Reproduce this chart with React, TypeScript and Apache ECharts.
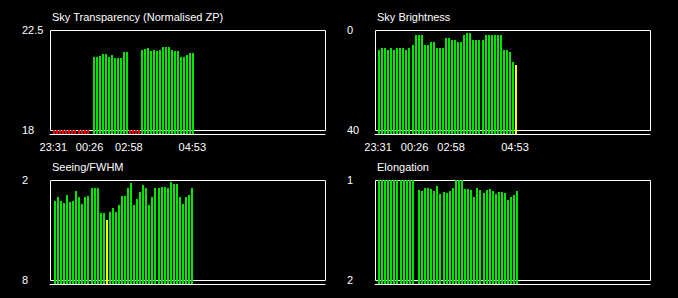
import React, { useEffect, useRef } from "react";
import * as echarts from "echarts";

// ---- data ----
const TIME_LABELS = ["23:31", "00:26", "02:58", "04:53"];
const TRANSPARENCY_LABEL_SLOTS = [0, 12, 25, 46];
const BRIGHTNESS_LABEL_SLOTS = [0, 12, 24, 45];

// flags: g = good (green), y = warning (yellow), r = no measurement (red stub), - = no frame
const TRANSPARENCY_FLAGS = "r".repeat(12) + "-" + "g".repeat(12) + "r".repeat(4) + "g".repeat(18);
const TRANSPARENCY: (number | null)[] = [
  null, null, null, null, null, null, null, null, null, null, null, null,
  null,
  21.29, 21.29, 21.33, 21.41, 21.41, 21.29, 21.37, 21.24, 21.24, 21.24, 21.5, 21.5,
  null, null, null, null,
  21.6, 21.65, 21.69, 21.56, 21.6, 21.56, 21.6, 21.74, 21.74, 21.74, 21.6, 21.56, 21.56,
  21.29, 21.29, 21.38, 21.47, 21.47,
];

const BRIGHTNESS_FLAGS = "g".repeat(45) + "y";
const BRIGHTNESS: number[] = [
  8, 7.2, 7.2, 8, 7.2, 8, 7.2, 7.2, 7.2, 8, 7.2, 6,
  2, 2, 2, 6, 6, 4.8, 4.8, 7.2, 7.2, 7.2, 3.2, 3.2,
  4, 4, 4.8, 4.8, 2, 1.2, 1.2, 4, 4, 4, 4, 2, 2, 2, 2, 2, 2,
  8, 8, 8.8, 12.8, 14,
];

const SEEING_FLAGS = "g".repeat(17) + "y" + "g".repeat(28);
const SEEING: number[] = [
  3.26, 3.02, 3.26, 3.38, 2.9, 3.32, 3.26, 2.66, 3.02, 3.44, 3.02, 2.96,
  2.48, 2.48, 2.48, 3.98, 3.98, 4.4, 3.92, 3.68, 3.92, 3.5, 2.96, 2.96,
  2.48, 2.18, 3.5, 3.14, 2.72, 2.3, 2.48, 3.5, 3.02, 2.48, 2.48, 2.42,
  2.42, 2.48, 2.12, 2.24, 2.24, 3.02, 3.44, 3.02, 2.9, 2.48,
];

const ELONGATION_FLAGS = "g".repeat(12) + "-" + "g".repeat(33);
const ELONGATION: (number | null)[] = [
  1, 1, 1, 1, 1, 1, 1, 1, 1, 1, 1, 1,
  null,
  1.1, 1.11, 1.08, 1.08, 1.09, 1.11, 1.06, 1.14, 1.12, 1.13, 1.11, 1.08,
  1, 1, 1,
  1.09, 1.09, 1.1, 1.17, 1.08, 1.1, 1.13, 1.1, 1.09, 1.11, 1.14, 1.12,
  1.12, 1.13, 1.2, 1.17, 1.15, 1.11,
];

// ---- styling / layout ----
const FONT = "'Liberation Sans', Arial, sans-serif";
const FONT_SIZE = 11;
const FLAG_CODES: Record<string, number> = { g: 0, y: 1, r: 2 };
const FLAG_COLORS = ["#00e600", "#ffff00", "#ff0000"];

type Panel = {
  title: string;
  values: (number | null)[];
  flags: string;
  top: number; // value at frame top
  bottom: number; // value at frame bottom
  left: number;
  y: number;
  xMin: number;
  xMax: number;
  labelSlots?: number[];
};

const PANELS: Panel[] = [
  { title: "Sky Transparency (Normalised ZP)", values: TRANSPARENCY, flags: TRANSPARENCY_FLAGS, top: 22.5, bottom: 18, left: 50, y: 30, xMin: -1.1, xMax: 89.9, labelSlots: TRANSPARENCY_LABEL_SLOTS },
  { title: "Sky Brightness", values: BRIGHTNESS, flags: BRIGHTNESS_FLAGS, top: 0, bottom: 40, left: 375, y: 30, xMin: -1, xMax: 89.35, labelSlots: BRIGHTNESS_LABEL_SLOTS },
  { title: "Seeing/FWHM", values: SEEING, flags: SEEING_FLAGS, top: 2, bottom: 8, left: 50, y: 180, xMin: -1.31, xMax: 89.0 },
  { title: "Elongation", values: ELONGATION, flags: ELONGATION_FLAGS, top: 1, bottom: 2, left: 375, y: 180, xMin: -0.98, xMax: 88.5 },
];

const FRAME_W = 275;
const FRAME_H = 100;
const BASE_GAP = 4;

function buildOption() {
  const grid: any[] = [];
  const xAxis: any[] = [];
  const yAxis: any[] = [];
  const series: any[] = [];
  const title: any[] = [];
  const graphic: any[] = [];

  PANELS.forEach((p, i) => {
    grid.push({ left: p.left, top: p.y, width: FRAME_W, height: FRAME_H + BASE_GAP, outerBoundsMode: "none", containLabel: false });
    const span = p.bottom - p.top;
    const ext = p.bottom + (span * BASE_GAP) / FRAME_H;
    const inverse = span > 0;
    yAxis.push({
      type: "value",
      gridIndex: i,
      inverse,
      min: inverse ? p.top : ext,
      max: inverse ? ext : p.top,
      axisLine: { show: false },
      axisTick: { show: false },
      splitLine: { show: false },
      axisLabel: {
        customValues: [p.top, p.bottom],
        formatter: (v: number) => String(v),
        color: "#ffffff",
        fontFamily: FONT,
        fontSize: FONT_SIZE,
        align: "left",
        margin: 28,
      },
    });
    const slots = p.labelSlots;
    xAxis.push({
      type: "value",
      gridIndex: i,
      min: p.xMin,
      max: p.xMax,
      axisLine: { show: true, onZero: false, lineStyle: { color: "#ffffff", width: 1 } },
      axisTick: { show: false },
      splitLine: { show: false },
      axisLabel: slots
        ? {
            show: true,
            customValues: slots,
            formatter: (v: number) => TIME_LABELS[slots.indexOf(v)] ?? "",
            color: "#ffffff",
            fontFamily: FONT,
            fontSize: FONT_SIZE,
            margin: 7,
          }
        : { show: false },
    });
    const data: number[][] = [];
    p.values.forEach((v, k) => {
      const f = p.flags[k];
      if (f === "-") return;
      data.push([k, v == null ? p.bottom : v, FLAG_CODES[f]]);
    });
    series.push({
      type: "custom",
      xAxisIndex: i,
      yAxisIndex: i,
      encode: { x: 0, y: 1 },
      data,
      z: 5,
      renderItem: (params: any, api: any) => {
        const pt = api.coord([api.value(0), api.value(1)]);
        const cs = params.coordSys;
        const base = cs.y + cs.height;
        const x0 = Math.round(pt[0]);
        const y0 = Math.round(pt[1]);
        return {
          type: "rect",
          shape: { x: x0, y: y0, width: 2, height: base - y0 },
          style: { fill: FLAG_COLORS[api.value(2)] },
        };
      },
    });
    title.push({
      text: p.title,
      left: p.left + 2,
      top: p.y - 19,
      padding: 0,
      textStyle: { color: "#ffffff", fontFamily: FONT, fontSize: FONT_SIZE, fontWeight: "normal" },
    });
    graphic.push({
      type: "rect",
      z: 1,
      shape: { x: p.left + 0.5, y: p.y + 0.5, width: FRAME_W, height: FRAME_H },
      style: { fill: "none", stroke: "#ffffff", lineWidth: 1 },
    });
  });

  return {
    animation: false,
    backgroundColor: "#000000",
    title,
    grid,
    xAxis,
    yAxis,
    series,
    graphic,
  };
}

export default function App() {
  const ref = useRef<HTMLDivElement>(null);
  useEffect(() => {
    if (!ref.current) return;
    const chart = echarts.init(ref.current, undefined, { renderer: "svg" });
    chart.setOption(buildOption() as any);
    return () => chart.dispose();
  }, []);
  return (
    <div
      ref={ref}
      style={{ position: "fixed", left: 0, top: 0, width: 678, height: 298, background: "#000" }}
    />
  );
}
